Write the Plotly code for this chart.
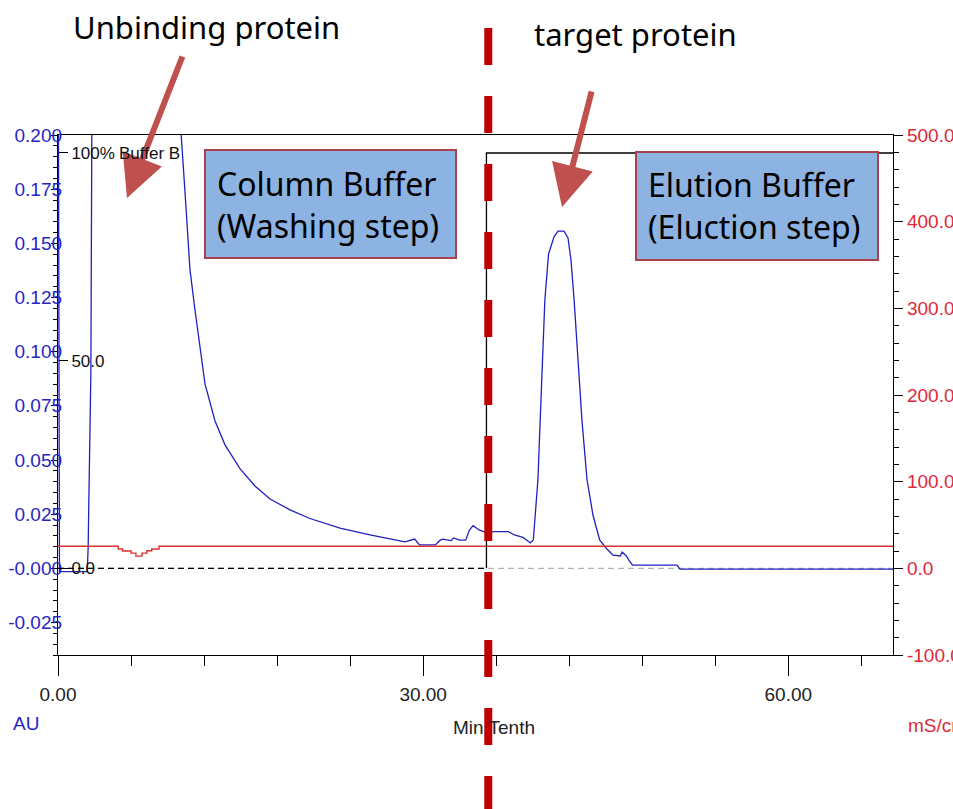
import plotly.graph_objects as go

# ---- UV absorbance (AU) ----
uv_time = [0.0, 0.12, 2.40, 2.48, 2.52, 2.70, 2.85, 3.5, 9.5, 9.9, 10.12, 10.43, 10.68, 10.84,
           11.26, 11.67, 12.08, 12.90, 13.72, 14.95, 16.18, 17.42, 19.06, 20.70, 23.17, 25.63,
           27.70, 28.5, 29.3, 29.5, 29.7, 30.3, 31.0, 31.4, 31.6, 32.3, 32.5, 33.0, 33.5, 33.8,
           34.1, 34.6, 35.2, 35.8, 37.0, 37.5, 38.2, 38.5, 38.8, 39.05, 39.43, 39.68, 40.0, 40.3,
           40.75, 41.08, 41.57, 41.9, 42.15, 42.4, 42.72, 43.05, 43.46, 43.95, 44.5, 45.1, 45.6,
           46.2, 46.35, 46.7, 46.9, 47.2, 50.85, 51.1, 68.6]
uv_au = [0.30, -0.0015, -0.0015, 0.010, 0.026, 0.090, 0.30, 0.45, 0.40, 0.26, 0.200, 0.174, 0.151, 0.138,
         0.119, 0.101, 0.085, 0.068, 0.057, 0.046, 0.038, 0.032, 0.027, 0.023, 0.0186, 0.0154,
         0.0130, 0.0122, 0.0135, 0.0122, 0.0108, 0.0108, 0.0108, 0.0130, 0.0135, 0.0128, 0.0140, 0.0130, 0.0130, 0.0177,
         0.0197, 0.0177, 0.0164, 0.0169, 0.0169, 0.0154, 0.0143, 0.0131, 0.0117, 0.0131, 0.041, 0.078, 0.124, 0.145,
         0.153, 0.1556, 0.1556, 0.1525, 0.142, 0.124, 0.096, 0.068, 0.041, 0.0246, 0.0131, 0.0089, 0.0061,
         0.0057, 0.0075, 0.0057, 0.0038, 0.0015, 0.0015, -0.0004, -0.0004]

# ---- Conductivity (mS/cm) ----
cond_time = [0.0, 4.95, 5.3, 6.0, 6.4, 6.9, 7.3, 7.7, 8.3, 68.6]
cond_ms = [25.5, 22.3, 20.0, 17.6, 14.1, 17.6, 20.3, 22.3, 25.5, 25.5]

# ---- Gradient (% Buffer B) ----
grad_time = [0.0, 35.2, 35.2, 68.6]
grad_pct_b = [0.0, 0.0, 100.0, 100.0]

# ---- Axis ticks ----
time_tickvals = [0, 30, 60]
time_ticktext = ["0.00", "30.00", "60.00"]
au_tickvals = [0.200, 0.175, 0.150, 0.125, 0.100, 0.075, 0.050, 0.025, 0.0, -0.025]
au_ticktext = ["0.200", "0.175", "0.150", "0.125", "0.100", "0.075", "0.050", "0.025", "-0.000", "-0.025"]
cond_tickvals = [500, 400, 300, 200, 100, 0, -100]
cond_ticktext = ["500.0", "400.0", "300.0", "200.0", "100.0", "0.0", "-100.0"]
pctb_tickvals = [0, 50, 100]
pctb_ticktext = ["0.0", "50.0", "100%"]

buffer_switch_time = 35.35

AX_FONT = "Liberation Sans Narrow, Arial Narrow, Liberation Sans, Arial, sans-serif"
NOTE_FONT = "Noto Sans, Noto Sans CJK KR, sans-serif"
BLUE = "#2626C4"
RED = "#E0283A"
ARROW = "#C0504D"

W, H = 953, 809
L, R, T, B = 58, 60, 135, 154
PW, PH = W - L - R, H - T - B


def px(xp):
    return (xp - L) / PW


def py(yp):
    return (H - B - yp) / PH


fig = go.Figure()

# zero baseline
fig.add_trace(go.Scatter(x=[grad_time[0], grad_time[-1]], y=[0, 0], mode="lines",
                         line=dict(color="#B4B4B4", width=1.2, dash="6px,4px"),
                         yaxis="y", hoverinfo="skip", showlegend=False))
# gradient: 0% segment dashed, step to 100% solid
fig.add_trace(go.Scatter(x=grad_time[:2], y=grad_pct_b[:2], mode="lines",
                         line=dict(color="black", width=1.3, dash="6px,4px"),
                         yaxis="y3", showlegend=False))
fig.add_trace(go.Scatter(x=grad_time[1:], y=grad_pct_b[1:], mode="lines",
                         line=dict(color="black", width=1.3),
                         yaxis="y3", showlegend=False))
# conductivity
fig.add_trace(go.Scatter(x=cond_time, y=cond_ms, mode="lines", line_shape="hv",
                         line=dict(color="#DC3232", width=1.4),
                         yaxis="y2", showlegend=False))
# UV
fig.add_trace(go.Scatter(x=uv_time, y=uv_au, mode="lines",
                         line=dict(color="#2020C0", width=1.3),
                         yaxis="y", showlegend=False))

fig.update_layout(
    width=W, height=H, autosize=False,
    margin=dict(l=L, r=R, t=T, b=B),
    paper_bgcolor="white", plot_bgcolor="white",
    showlegend=False,
    xaxis=dict(range=[0, 68.6], tickmode="array", tickvals=time_tickvals, ticktext=time_ticktext,
               ticks="outside", ticklen=20, tickwidth=1.3, tickcolor="black",
               showline=True, linecolor="black", linewidth=1.3, mirror=True,
               showgrid=False, zeroline=False, automargin=False,
               tickfont=dict(family=AX_FONT, size=19, color="#222"),
               ticklabelstandoff=2,
               minor=dict(tickmode="linear", tick0=0, dtick=6, ticks="outside", ticklen=10,
                          tickwidth=1.3, tickcolor="black", showgrid=False)),
    yaxis=dict(range=[-0.04, 0.2], tickmode="array", tickvals=au_tickvals, ticktext=au_ticktext,
               ticks="outside", ticklen=6, tickwidth=1.3, tickcolor="black",
               showline=True, linecolor="black", linewidth=1.3,
               showgrid=False, zeroline=False, automargin=False,
               tickfont=dict(family=AX_FONT, size=19, color=BLUE),
               ticklabelstandoff=-15,
               minor=dict(tickmode="linear", tick0=0, dtick=0.005, ticks="outside", ticklen=4,
                          tickwidth=1.2, tickcolor="black", showgrid=False)),
    yaxis2=dict(range=[-100, 500], overlaying="y", side="right", anchor="x",
                tickmode="array", tickvals=cond_tickvals, ticktext=cond_ticktext,
                ticks="outside", ticklen=9, tickwidth=1.3, tickcolor="black",
                showline=True, linecolor="black", linewidth=1.3,
                showgrid=False, zeroline=False, automargin=False,
                tickfont=dict(family=AX_FONT, size=19, color=RED),
                minor=dict(tickmode="linear", tick0=0, dtick=20, ticks="outside", ticklen=5,
                           tickwidth=1.2, tickcolor="black", showgrid=False)),
    yaxis3=dict(range=[-20.87, 104.33], overlaying="y", side="right", anchor="free", position=0,
                tickmode="array", tickvals=pctb_tickvals, ticktext=pctb_ticktext,
                ticks="outside", ticklen=9, tickwidth=1.3, tickcolor="black",
                showline=False, showgrid=False, zeroline=False, automargin=False,
                tickfont=dict(family=AX_FONT, size=17, color="#111")),
)

# step annotation boxes
for x0, x1, y0, y1 in [(205, 456, 258, 150), (636, 878, 260, 152)]:
    fig.add_shape(type="rect", xref="paper", yref="paper",
                  x0=px(x0), x1=px(x1), y0=py(y0), y1=py(y1),
                  fillcolor="#8DB3E2", line=dict(color="#A8424E", width=2), layer="above")

# buffer switch marker
fig.add_shape(type="line", xref="x", yref="paper",
              x0=buffer_switch_time, x1=buffer_switch_time, y0=py(28), y1=py(812),
              line=dict(color="#C00000", width=8, dash="37px,31px"), layer="above")

notes = [
    dict(text="Unbinding protein", x=px(71), y=py(27), size=31),
    dict(text="target protein", x=px(532), y=py(34), size=31),
    dict(text="Column Buffer<br>(Washing step)", x=px(215), y=py(204), size=32),
    dict(text="Elution Buffer<br>(Eluction step)", x=px(646), y=py(206), size=32),
]
for n in notes:
    fig.add_annotation(text=n["text"], x=n["x"], y=n["y"], xref="paper", yref="paper",
                       xanchor="left", yanchor="middle", align="left", showarrow=False,
                       font=dict(family=NOTE_FONT, size=n["size"], color="black"))

# arrows
for tip, tail in [((127, 198), (183, 55)), ((562, 207), (592, 90))]:
    fig.add_annotation(text="", x=px(tip[0]), y=py(tip[1]), xref="paper", yref="paper",
                       showarrow=True, arrowhead=2, arrowsize=1.4, arrowwidth=6,
                       arrowcolor=ARROW, ax=tail[0] - tip[0], ay=tail[1] - tip[1], standoff=0)

# axis captions
small = [
    dict(text="Buffer B", x=px(117), y=py(153), color="#111", xanchor="left", size=17),
    dict(text="Min Tenth", x=px(494), y=py(727), color="#222", xanchor="center", size=19),
    dict(text="AU", x=px(11), y=py(723), color=BLUE, xanchor="left", size=19),
    dict(text="mS/cm", x=px(906), y=py(725), color=RED, xanchor="left", size=19),
]
for s in small:
    fig.add_annotation(text=s["text"], x=s["x"], y=s["y"], xref="paper", yref="paper",
                       xanchor=s["xanchor"], yanchor="middle", showarrow=False,
                       font=dict(family=AX_FONT, size=s["size"], color=s["color"]))

fig.write_html("out.html")
